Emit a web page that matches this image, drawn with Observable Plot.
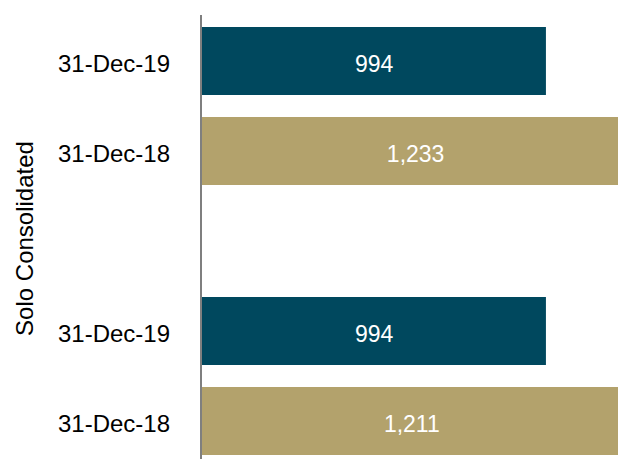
<!DOCTYPE html>
<html>
<head>
<meta charset="utf-8">
<script src="https://cdn.jsdelivr.net/npm/d3@7"></script>
<script src="https://cdn.jsdelivr.net/npm/@observablehq/plot@0.6"></script>
<style>
  html, body { margin: 0; padding: 0; background: #fff; overflow: hidden; }
  #chart svg { display: block; }
</style>
</head>
<body>
<div id="chart"></div>
<script>
const groups = ["Consolidated", "Consolidated", "Solo", "Solo"];
const dates = ["31-Dec-19", "31-Dec-18", "31-Dec-19", "31-Dec-18"];
const values = [994, 1233, 994, 1211];
const axisTitle = "Solo Consolidated";
const dateOrder = ["31-Dec-19", "31-Dec-18"];
const dateColors = ["#00485E", "#B3A26C"];

const rows = groups.map((g, i) => ({ key: g + "|" + dates[i], group: g, date: dates[i], value: values[i] }));

// y domain: bars grouped, with an empty spacer band between groups
const uniqueGroups = [...new Set(groups)];
const yDomain = [];
uniqueGroups.forEach((g, gi) => {
  if (gi > 0) yDomain.push("__gap" + gi);
  rows.filter(r => r.group === g).forEach(r => yDomain.push(r.key));
});

const chart = Plot.plot({
  width: 618,
  height: 459,
  marginLeft: 201.5,
  marginRight: 0,
  marginTop: 15,
  marginBottom: 0,
  style: { fontFamily: "'Liberation Sans', Arial, sans-serif", fontSize: "24px", background: "#fff" },
  x: { domain: [0, 1202], axis: null },
  y: { domain: yDomain, range: [15.1, 467.6], paddingInner: 0.24, paddingOuter: 0.12, axis: null },
  color: { domain: dateOrder, range: dateColors },
  marks: [
    Plot.barX(rows, { x: "value", y: "key", fill: "date", clip: true }),
    Plot.ruleX([0], { stroke: "#7f7f7f", strokeWidth: 2, dx: -1 }),
    Plot.text(rows, {
      x: d => d.value / 2, y: "key", text: d => d3.format(",")(d.value),
      fill: "white", fontSize: 23, dy: 3
    }),
    Plot.text(rows, {
      y: "key", text: "date", frameAnchor: "left", textAnchor: "end",
      dx: -32, dy: 3, fontSize: 24, fill: "#000"
    }),
    Plot.text([axisTitle], {
      text: d => d, frameAnchor: "left", textAnchor: "middle", rotate: -90,
      dx: -177, dy: 1, fontSize: 24, fill: "#000"
    })
  ]
});
document.getElementById("chart").appendChild(chart);
</script>
</body>
</html>
